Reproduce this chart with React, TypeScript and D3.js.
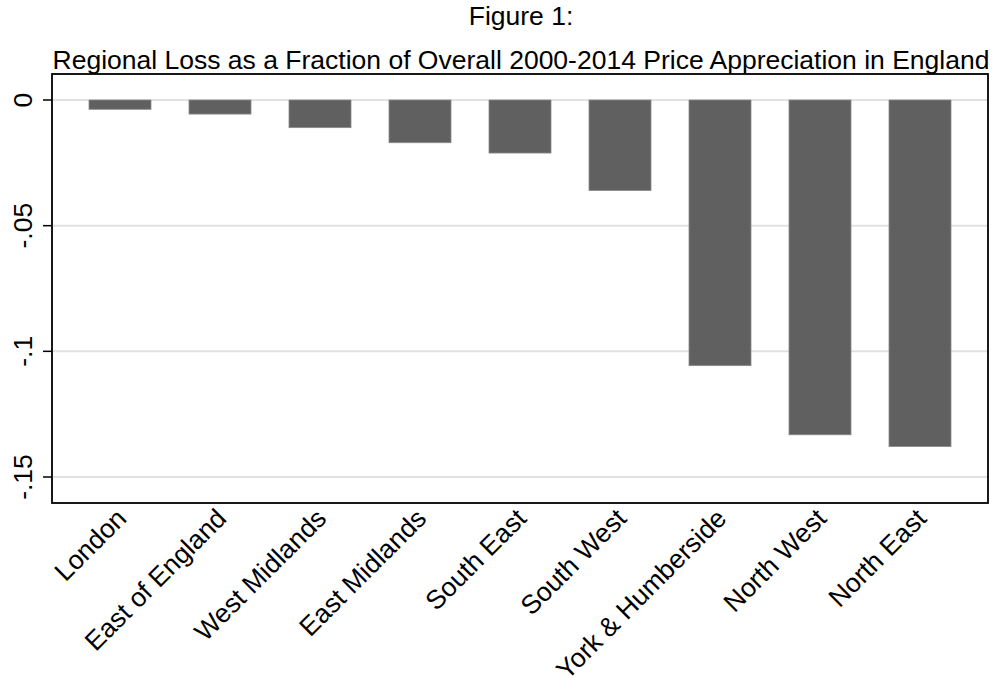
import React, { useEffect, useRef } from 'react';
import * as d3 from 'd3';

const regions = [
  'London',
  'East of England',
  'West Midlands',
  'East Midlands',
  'South East',
  'South West',
  'York & Humberside',
  'North West',
  'North East',
];
const losses = [-0.0037, -0.0056, -0.011, -0.017, -0.0211, -0.036, -0.1057, -0.1332, -0.1379];
const yTicks = [0, -0.05, -0.1, -0.15];
const yTickLabels = ['0', '-.05', '-.1', '-.15'];

const App = () => {
  const svgRef = useRef<SVGSVGElement>(null);

  useEffect(() => {
    const svg = d3.select(svgRef.current);
    svg.selectAll('*').remove();
    const font = '"Liberation Sans", Arial, sans-serif';
    const fs = '26.5px';

    const left = 52, right = 988, top = 74, bottom = 503;

    const x = d3.scaleBand<string>()
      .domain(regions)
      .range([left, right])
      .paddingInner(0.38)
      .paddingOuter(0.37);

    const y = d3.scaleLinear()
      .domain([0, -0.15])
      .range([100, 477]);

    svg.append('rect').attr('width', 996).attr('height', 678).attr('fill', '#fff');

    // title
    svg.append('text')
      .attr('x', 521).attr('y', 25)
      .attr('text-anchor', 'middle')
      .style('font-family', font).style('font-size', fs)
      .text('Figure 1:');
    svg.append('text')
      .attr('x', 521).attr('y', 69)
      .attr('text-anchor', 'middle')
      .style('font-family', font).style('font-size', fs)
      .text('Regional Loss as a Fraction of Overall 2000-2014 Price Appreciation in England');

    // grid
    svg.append('g')
      .selectAll('line')
      .data(yTicks)
      .enter()
      .append('line')
      .attr('x1', left).attr('x2', right)
      .attr('y1', d => y(d)).attr('y2', d => y(d))
      .attr('stroke', '#e1e1e1').attr('stroke-width', 2);

    // bars
    svg.append('g')
      .selectAll('rect')
      .data(losses)
      .enter()
      .append('rect')
      .attr('x', (d, i) => x(regions[i])!)
      .attr('y', y(0))
      .attr('width', x.bandwidth())
      .attr('height', d => y(d) - y(0))
      .attr('fill', '#606060')
      .attr('stroke', '#8a8a8a')
      .attr('stroke-width', 0.8);

    // frame
    svg.append('rect')
      .attr('x', left).attr('y', top)
      .attr('width', right - left).attr('height', bottom - top)
      .attr('fill', 'none').attr('stroke', '#000').attr('stroke-width', 1.8);

    // y axis ticks + labels
    const yAxis = svg.append('g');
    yAxis.selectAll('line')
      .data(yTicks)
      .enter()
      .append('line')
      .attr('x1', 43).attr('x2', left)
      .attr('y1', d => y(d)).attr('y2', d => y(d))
      .attr('stroke', '#000').attr('stroke-width', 1.5);
    yAxis.selectAll('text')
      .data(yTicks)
      .enter()
      .append('text')
      .attr('transform', d => `translate(32,${y(d)}) rotate(-90)`)
      .attr('text-anchor', 'middle')
      .style('font-family', font).style('font-size', fs)
      .text((d, i) => yTickLabels[i]);

    // x labels (Stata-style 45 degree)
    svg.append('g')
      .selectAll('text')
      .data(regions)
      .enter()
      .append('text')
      .attr('transform', d => `translate(${x(d)! + x.bandwidth() / 2 + 8},${bottom + 17}) rotate(-45)`)
      .attr('text-anchor', 'end')
      .style('font-family', font).style('font-size', fs)
      .text(d => d);
  }, []);

  return <svg ref={svgRef} width={996} height={678} style={{ display: 'block', position: 'absolute', left: 0, top: 0 }}></svg>;
};

export default App;
